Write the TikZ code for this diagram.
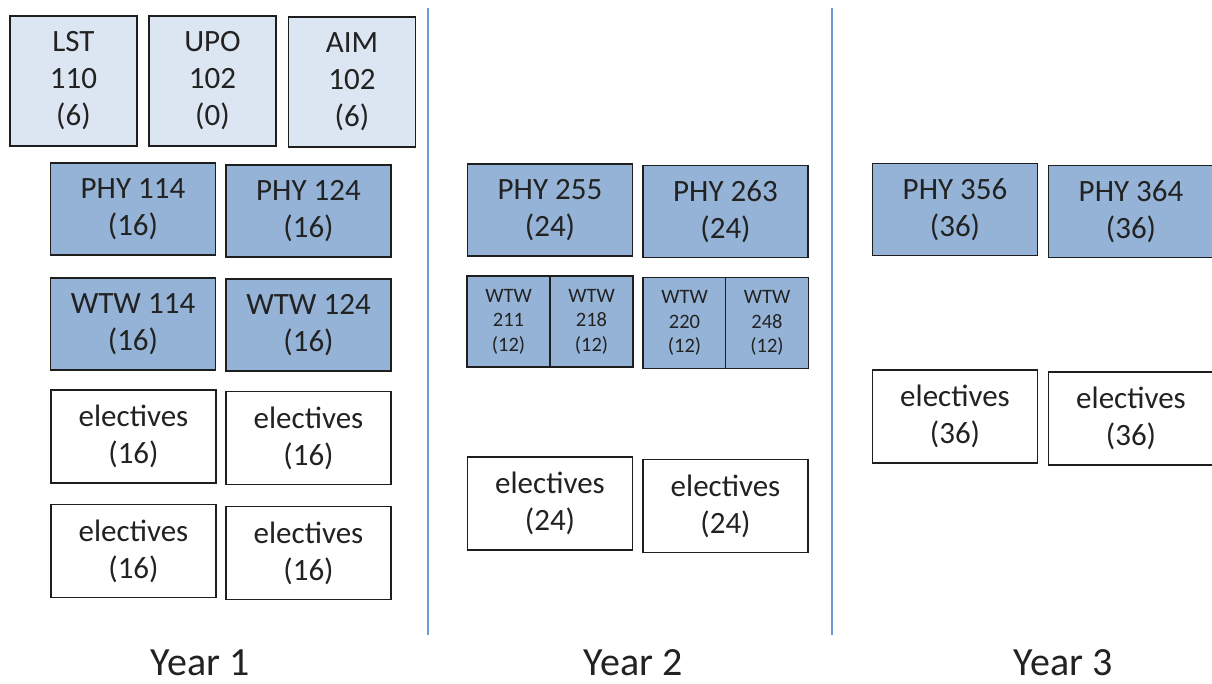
\documentclass[tikz,border=0pt]{standalone}
\usepackage{fontspec}
\setmainfont{Carlito}
\definecolor{lightfill}{HTML}{DCE6F2}
\definecolor{darkfill}{HTML}{95B3D7}
\definecolor{edge}{HTML}{1E1E1E}
\definecolor{divcol}{HTML}{6A9BD8}
\definecolor{txt}{HTML}{222222}
\begin{document}
\begin{tikzpicture}[x=1pt,y=-1pt,
  box/.style={draw=edge, line width=1.5pt, align=center, inner sep=0pt, anchor=center, text=txt,
    font={\fontsize{31}{37}\selectfont}},
  light/.style={box, fill=lightfill, minimum width=127, minimum height=130},
  dark/.style={box, fill=darkfill, minimum width=165, minimum height=92},
  small/.style={box, fill=darkfill, minimum width=83, minimum height=91, font={\fontsize{20.5}{24.5}\selectfont}},
  elec/.style={box, fill=white, minimum width=165, minimum height=93},
  divider/.style={draw=divcol, line width=1.8pt},
  yearlabel/.style={text=txt, font={\fontsize{40}{44}\selectfont}, anchor=center}]
\useasboundingbox (0,0) rectangle (1212,684);
% Year 1
\node[light] (lst) at (73.5,81) {LST\\110\\(6)};
\node[light] (upo) at (212.5,81) {UPO\\102\\(0)};
\node[light] (aim) at (352,82) {AIM\\102\\(6)};
\node[dark] (p114) at (133,209) {PHY 114\\(16)};
\node[dark] (p124) at (308.5,211) {PHY 124\\(16)};
\node[dark] (w114) at (133,324) {WTW 114\\(16)};
\node[dark] (w124) at (308.5,325) {WTW 124\\(16)};
\node[elec] (e11) at (133.5,436.5) {electives\\(16)};
\node[elec] (e12) at (308.5,438) {electives\\(16)};
\node[elec] (e13) at (133.5,551) {electives\\(16)};
\node[elec] (e14) at (308.5,553) {electives\\(16)};
% Year 2
\node[dark] (p255) at (550,210) {PHY 255\\(24)};
\node[dark] (p263) at (725.5,211.5) {PHY 263\\(24)};
\node[small] (w211) at (508.5,321.5) {WTW\\211\\(12)};
\node[small] (w218) at (591.5,321.5) {WTW\\218\\(12)};
\node[small] (w220) at (684.5,323) {WTW\\220\\(12)};
\node[small] (w248) at (767,323) {WTW\\248\\(12)};
\node[elec] (e21) at (550,503.5) {electives\\(24)};
\node[elec] (e22) at (725.5,506) {electives\\(24)};
% Year 3
\node[dark] (p356) at (955,209.5) {PHY 356\\(36)};
\node[dark] (p364) at (1131,211.5) {PHY 364\\(36)};
\node[elec] (e31) at (955,416.5) {electives\\(36)};
\node[elec] (e32) at (1131,418.5) {electives\\(36)};
% dividers
\coordinate (d1t) at (428,8);
\coordinate (d1b) at (428,635);
\coordinate (d2t) at (832,8);
\coordinate (d2b) at (832,635);
\draw[divider] (d1t) -- (d1b);
\draw[divider] (d2t) -- (d2b);
% labels
\node[yearlabel] (y1) at (200,663) {Year 1};
\node[yearlabel] (y2) at (633,663) {Year 2};
\node[yearlabel] (y3) at (1063,663) {Year 3};
\end{tikzpicture}
\end{document}
